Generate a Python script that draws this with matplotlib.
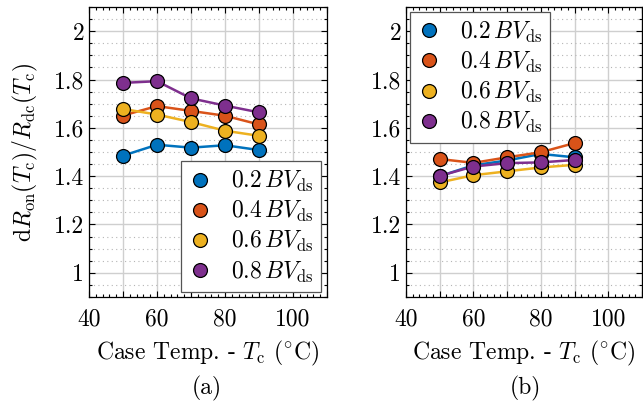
import numpy as np
import matplotlib
matplotlib.use('Agg')
import matplotlib.pyplot as plt
from matplotlib.ticker import MultipleLocator, FuncFormatter

plt.rcParams['font.family'] = 'serif'
plt.rcParams['font.serif'] = ['cmr10']
plt.rcParams['mathtext.fontset'] = 'cm'
plt.rcParams['axes.formatter.use_mathtext'] = True

# data
temps = [50, 60, 70, 80, 90]
labels = [r'$0.2\,BV_\mathrm{ds}$', r'$0.4\,BV_\mathrm{ds}$',
          r'$0.6\,BV_\mathrm{ds}$', r'$0.8\,BV_\mathrm{ds}$']
colors = ['#0072BD', '#D95319', '#EDB120', '#7E2F8E']

# (a)
a_02 = [1.485, 1.530, 1.518, 1.528, 1.508]
a_04 = [1.651, 1.690, 1.670, 1.650, 1.614]
a_06 = [1.678, 1.655, 1.624, 1.588, 1.567]
a_08 = [1.786, 1.793, 1.722, 1.692, 1.664]

# (b)
b_02 = [1.400, 1.445, 1.465, 1.492, 1.478]
b_04 = [1.471, 1.455, 1.478, 1.499, 1.537]
b_06 = [1.374, 1.404, 1.420, 1.436, 1.447]
b_08 = [1.401, 1.440, 1.454, 1.457, 1.467]

FS = 17

fig = plt.figure(figsize=(6.43, 4.07), dpi=100)
ax1 = fig.add_axes([89/643, 110/407, 238/643, 290/407])
ax2 = fig.add_axes([406/643, 110/407, 236/643, 290/407])


def xfmt(v, pos):
    return '%d' % v if int(round(v)) % 20 == 0 else ''


def setup(ax, series, loc, anchor):
    for ys, c, lab in zip(series, colors, labels):
        ax.plot(temps, ys, '-o', color=c, lw=1.8, ms=10, mfc=c,
                mec='k', mew=0.9, label=lab)
    ax.set_xlim(40, 110)
    ax.set_ylim(0.9, 2.1)
    ax.xaxis.set_major_locator(MultipleLocator(10))
    ax.xaxis.set_minor_locator(MultipleLocator(2))
    ax.xaxis.set_major_formatter(FuncFormatter(xfmt))
    ax.yaxis.set_major_locator(MultipleLocator(0.2))
    ax.yaxis.set_minor_locator(MultipleLocator(0.05))
    ax.yaxis.set_major_formatter(FuncFormatter(lambda v, p: '%g' % round(v, 2)))
    ax.grid(which='major', color='#cfcfcf', lw=1.0)
    ax.grid(which='minor', axis='y', color='#b5b5b5', lw=0.8, ls=(0, (1, 3)))
    ax.set_axisbelow(True)
    ax.tick_params(which='both', direction='in', top=True, right=True,
                   labelsize=FS, width=0.8)
    ax.tick_params(which='major', length=4)
    ax.tick_params(which='minor', length=2.5)
    ax.tick_params(axis='x', pad=8)
    for s in ax.spines.values():
        s.set_linewidth(0.9)
    ax.set_xlabel(r'Case Temp. - $T_\mathrm{c}$ $(^{\circ}\mathrm{C})$', fontsize=FS, labelpad=6)
    leg = ax.legend(loc=loc, bbox_to_anchor=anchor, fontsize=FS, fancybox=False,
                    edgecolor='#555555', framealpha=1, handlelength=1.0,
                    handletextpad=0.8, borderpad=0.32, labelspacing=0.22,
                    borderaxespad=0)
    leg.get_frame().set_linewidth(0.9)
    for h in leg.legend_handles:
        h.set_linestyle('')


setup(ax1, [a_02, a_04, a_06, a_08], 'lower right', (0.975, 0.017))
setup(ax2, [b_02, b_04, b_06, b_08], 'upper left', (0.017, 0.983))
ax1.set_ylabel(r'd$R_\mathrm{on}(T_\mathrm{c})/R_\mathrm{dc}(T_\mathrm{c})$', fontsize=FS, labelpad=10)

fig.text(207/643, 1 - 388/407, '(a)', ha='center', va='center', fontsize=FS)
fig.text(525/643, 1 - 388/407, '(b)', ha='center', va='center', fontsize=FS)

fig.savefig('out.png', dpi=100)
